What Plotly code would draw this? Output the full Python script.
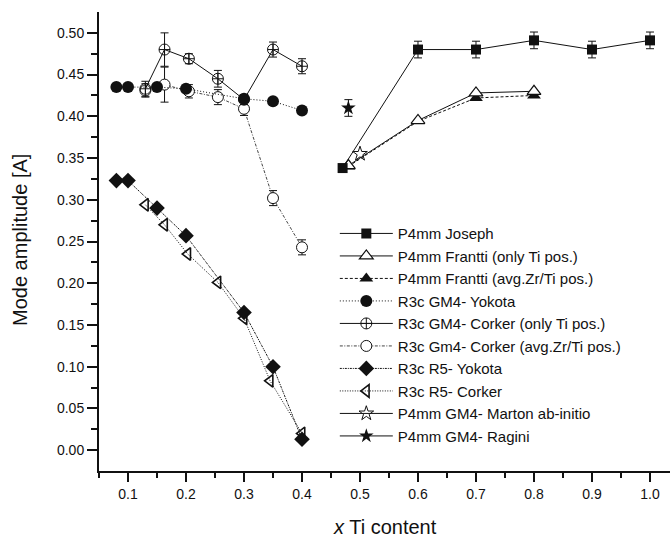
import plotly.graph_objects as go

# ---- data ----
joseph_x = [0.47, 0.6, 0.7, 0.8, 0.9, 1.0]
joseph_y = [0.338, 0.480, 0.480, 0.491, 0.480, 0.491]
joseph_err = [0.0, 0.01, 0.01, 0.01, 0.01, 0.01]

frantti_ti_x = [0.48, 0.6, 0.7, 0.8]
frantti_ti_y = [0.341, 0.395, 0.428, 0.430]

frantti_avg_x = [0.48, 0.6, 0.7, 0.8]
frantti_avg_y = [0.340, 0.394, 0.422, 0.425]

yokota_gm4_x = [0.08, 0.1, 0.15, 0.2, 0.3, 0.35, 0.4]
yokota_gm4_y = [0.435, 0.435, 0.435, 0.433, 0.421, 0.418, 0.407]

corker_ti_x = [0.13, 0.163, 0.205, 0.255, 0.30, 0.35, 0.40]
corker_ti_y = [0.433, 0.480, 0.469, 0.445, 0.420, 0.480, 0.460]
corker_ti_err = [0.009, 0.020, 0.006, 0.010, 0.006, 0.009, 0.009]

corker_avg_x = [0.13, 0.163, 0.205, 0.255, 0.30, 0.35, 0.40]
corker_avg_y = [0.431, 0.438, 0.430, 0.423, 0.409, 0.302, 0.243]
corker_avg_err = [0.008, 0.021, 0.008, 0.009, 0.008, 0.009, 0.009]

yokota_r5_x = [0.08, 0.1, 0.15, 0.2, 0.3, 0.35, 0.4]
yokota_r5_y = [0.323, 0.323, 0.290, 0.257, 0.165, 0.100, 0.013]

corker_r5_x = [0.13, 0.163, 0.203, 0.255, 0.30, 0.345, 0.40]
corker_r5_y = [0.294, 0.270, 0.235, 0.201, 0.158, 0.083, 0.020]

marton_x = [0.5]
marton_y = [0.355]

ragini_x = [0.48]
ragini_y = [0.41]
ragini_err = [0.01]

x_ticks = [0.1, 0.2, 0.3, 0.4, 0.5, 0.6, 0.7, 0.8, 0.9, 1.0]
x_ticklabels = ["0.1", "0.2", "0.3", "0.4", "0.5", "0.6", "0.7", "0.8", "0.9", "1.0"]
x_minor = [0.05, 0.15, 0.25, 0.35, 0.45, 0.55, 0.65, 0.75, 0.85, 0.95]
y_ticks = [0.0, 0.05, 0.10, 0.15, 0.20, 0.25, 0.30, 0.35, 0.40, 0.45, 0.50]
y_ticklabels = ["0.00", "0.05", "0.10", "0.15", "0.20", "0.25", "0.30", "0.35", "0.40", "0.45", "0.50"]
y_minor = [0.025, 0.075, 0.125, 0.175, 0.225, 0.275, 0.325, 0.375, 0.425, 0.475]

K = "#111111"
FONT = "Liberation Sans, Arial, sans-serif"

def eb(vals):
    return dict(type="data", array=vals, visible=True, color=K, thickness=1, width=4)

fig = go.Figure()

fig.add_trace(go.Scatter(
    x=corker_r5_x, y=corker_r5_y, mode="lines+markers", name="R3c R5- Corker", legendrank=8,
    line=dict(color=K, width=1, dash="1px,1.5px"),
    marker=dict(symbol="triangle-left-open", size=11, color=K, line=dict(width=1.6, color=K))))
fig.add_trace(go.Scatter(
    x=yokota_r5_x, y=yokota_r5_y, mode="lines+markers", name="R3c R5- Yokota", legendrank=7,
    line=dict(color=K, width=1, dash="2px,1px,1px,1px"),
    marker=dict(symbol="diamond", size=12, color=K)))
fig.add_trace(go.Scatter(
    x=corker_avg_x, y=corker_avg_y, mode="lines+markers", name="R3c Gm4- Corker (avg.Zr/Ti pos.)",
    legendrank=6,
    line=dict(color="#444444", width=1, dash="3px,1.5px,1px,1.5px"),
    marker=dict(symbol="circle", size=11, color="white", line=dict(width=1, color=K)),
    error_y=eb(corker_avg_err)))
fig.add_trace(go.Scatter(
    x=corker_ti_x, y=corker_ti_y, mode="lines+markers", name="R3c GM4- Corker (only Ti pos.)",
    legendrank=5,
    line=dict(color=K, width=1),
    marker=dict(symbol="circle-cross-open", size=11, color=K, line=dict(width=1, color=K)),
    error_y=eb(corker_ti_err)))
fig.add_trace(go.Scatter(
    x=yokota_gm4_x, y=yokota_gm4_y, mode="lines+markers", name="R3c GM4- Yokota", legendrank=4,
    line=dict(color=K, width=1, dash="1px,2px"),
    marker=dict(symbol="circle", size=12, color=K)))
fig.add_trace(go.Scatter(
    x=frantti_avg_x, y=frantti_avg_y, mode="lines+markers", name="P4mm Frantti (avg.Zr/Ti pos.)",
    legendrank=3,
    line=dict(color=K, width=1, dash="3px,2px"),
    marker=dict(symbol="triangle-up", size=12, color=K)))
fig.add_trace(go.Scatter(
    x=frantti_ti_x, y=frantti_ti_y, mode="lines+markers", name="P4mm Frantti (only Ti pos.)",
    legendrank=2,
    line=dict(color=K, width=1),
    marker=dict(symbol="triangle-up", size=12, color="white", line=dict(width=1.2, color=K))))
fig.add_trace(go.Scatter(
    x=joseph_x, y=joseph_y, mode="lines+markers", name="P4mm Joseph", legendrank=1,
    line=dict(color=K, width=1),
    marker=dict(symbol="square", size=10, color=K),
    error_y=eb(joseph_err)))
fig.add_trace(go.Scatter(
    x=marton_x, y=marton_y, mode="lines+markers", name="P4mm GM4- Marton ab-initio", legendrank=9,
    line=dict(color=K, width=1),
    marker=dict(symbol="star-open", size=11, color=K, line=dict(width=1, color=K))))
fig.add_trace(go.Scatter(
    x=ragini_x, y=ragini_y, mode="lines+markers", name="P4mm GM4- Ragini", legendrank=10,
    line=dict(color=K, width=1),
    marker=dict(symbol="star", size=11, color=K),
    error_y=eb(ragini_err)))

XR = [0.05, 1.0345]
YR = [-0.025, 0.525]
tickfont = dict(family=FONT, size=14, color=K)

fig.update_layout(
    width=671, height=539,
    margin=dict(l=99, r=1, t=12, b=68, autoexpand=False),
    paper_bgcolor="white", plot_bgcolor="white",
    showlegend=True,
    legend=dict(x=0.413, y=0.553, xanchor="left", yanchor="top",
                traceorder="normal", font=dict(family=FONT, size=15, color=K),
                bgcolor="rgba(0,0,0,0)", itemwidth=53, tracegroupgap=0),
    xaxis=dict(range=XR, tickvals=x_ticks, ticktext=x_ticklabels, automargin=False,
               ticks="outside", ticklen=9, tickwidth=1.5, tickcolor=K,
               showline=True, linecolor=K, linewidth=2, showgrid=False, zeroline=False,
               tickfont=tickfont,
               minor=dict(tickvals=x_minor, ticks="outside", ticklen=5, tickwidth=1.5, tickcolor=K)),
    yaxis=dict(range=YR, tickvals=y_ticks, ticktext=y_ticklabels, automargin=False,
               ticks="outside", ticklen=10, tickwidth=1.5, tickcolor=K,
               showline=True, linecolor=K, linewidth=2, showgrid=False, zeroline=False,
               tickfont=tickfont,
               minor=dict(tickvals=y_minor, ticks="outside", ticklen=6, tickwidth=1.5, tickcolor=K)),
    xaxis2=dict(range=XR, overlaying="x", side="top", anchor="y", tickvals=x_ticks, automargin=False,
                showticklabels=False, ticks="inside", ticklen=8, tickwidth=1.5, tickcolor=K,
                showline=True, linecolor=K, linewidth=2, showgrid=False, zeroline=False,
                minor=dict(tickvals=x_minor, ticks="inside", ticklen=5, tickwidth=1.5, tickcolor=K)),
    yaxis2=dict(range=YR, overlaying="y", side="right", anchor="x", tickvals=y_ticks, automargin=False,
                showticklabels=False, ticks="inside", ticklen=8, tickwidth=1.5, tickcolor=K,
                showline=True, linecolor=K, linewidth=2, showgrid=False, zeroline=False,
                minor=dict(tickvals=y_minor, ticks="inside", ticklen=5, tickwidth=1.5, tickcolor=K)),
    annotations=[
        dict(text="<i>x</i> Ti content", xref="paper", yref="paper", x=0.5, y=-0.122,
             xanchor="center", yanchor="middle", showarrow=False,
             font=dict(family=FONT, size=20, color=K)),
        dict(text="Mode amplitude [A]", xref="paper", yref="paper", x=-0.1386, y=0.503,
             xanchor="center", yanchor="middle", textangle=-90, showarrow=False,
             font=dict(family=FONT, size=20, color=K)),
    ],
)

fig.write_html("out.html", config={"displayModeBar": False},
               post_script="document.body.style.margin='0px';")
